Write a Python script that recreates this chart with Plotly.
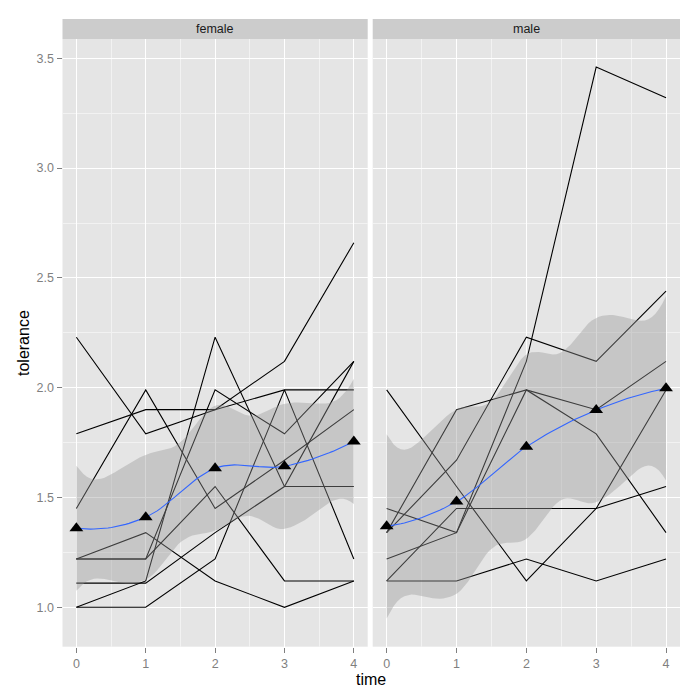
import numpy as np
import plotly.graph_objects as go

# ---- data (tolerance, NYS) ----
ids = [9, 45, 268, 314, 442, 514, 569, 624, 723, 918, 949, 978, 1105, 1542, 1552, 1653]
male = [0, 1, 1, 0, 0, 1, 0, 1, 0, 0, 1, 1, 1, 0, 0, 0]
tol_t0 = [2.23, 1.12, 1.45, 1.22, 1.45, 1.34, 1.79, 1.12, 1.22, 1.00, 1.99, 1.22, 1.34, 1.22, 1.00, 1.11]
tol_t1 = [1.79, 1.45, 1.34, 1.22, 1.99, 1.67, 1.90, 1.12, 1.34, 1.00, 1.55, 1.34, 1.90, 1.22, 1.12, 1.11]
tol_t2 = [1.90, 1.45, 1.99, 1.55, 1.45, 2.23, 1.90, 1.22, 1.12, 1.22, 1.12, 2.12, 1.99, 1.99, 2.23, 1.34]
tol_t3 = [2.12, 1.45, 1.79, 1.12, 1.67, 2.12, 1.99, 1.12, 1.00, 1.99, 1.45, 3.46, 1.90, 1.79, 1.55, 1.55]
tol_t4 = [2.66, 1.99, 1.34, 1.12, 1.90, 2.44, 1.99, 1.22, 1.12, 1.22, 1.55, 3.32, 2.12, 2.12, 1.55, 2.12]
times = [0, 1, 2, 3, 4]
facets = ["female", "male"]
y_ticks = [1.0, 1.5, 2.0, 2.5, 3.0, 3.5]

tol = np.array([tol_t0, tol_t1, tol_t2, tol_t3, tol_t4]).T  # (subject, time)


def t_quantile(p_z, nu):
    z = p_z
    return (z + (z**3 + z) / (4 * nu) + (5 * z**5 + 16 * z**3 + 3 * z) / (96 * nu**2)
            + (3 * z**7 + 19 * z**5 + 17 * z**3 - 15 * z) / (384 * nu**3))


def loess_smooth(x, y, grid, span=0.75):
    """local quadratic loess, vertices at the kd-tree split points (unique x here),
    cubic Hermite interpolation of the operator between vertices (like R's loess)."""
    x = np.asarray(x, float)
    y = np.asarray(y, float)
    n = len(x)
    nf = int(np.floor(n * span))
    verts = np.unique(x)
    Lval, Lslope = [], []
    for v in verts:
        d = np.abs(x - v)
        h = np.sort(d)[nf - 1]
        u = d / h
        w = np.where(u < 1, (1 - u**3) ** 3, 0.0)
        X = np.column_stack([np.ones(n), x - v, (x - v) ** 2])
        A = np.linalg.pinv(X.T @ (w[:, None] * X)) @ (X.T * w)
        Lval.append(A[0])
        Lslope.append(A[1])
    Lval = np.array(Lval)
    Lslope = np.array(Lslope)

    def op(xx):
        rows = []
        for q in np.atleast_1d(xx):
            j = np.searchsorted(verts, q, side="right") - 1
            j = min(max(j, 0), len(verts) - 2)
            a, b = verts[j], verts[j + 1]
            dx = b - a
            t = (q - a) / dx
            phi0 = (1 - t) ** 2 * (1 + 2 * t)
            phi1 = t**2 * (3 - 2 * t)
            psi0 = t * (1 - t) ** 2
            psi1 = -(t**2) * (1 - t)
            rows.append(phi0 * Lval[j] + phi1 * Lval[j + 1]
                        + (psi0 * Lslope[j] + psi1 * Lslope[j + 1]) * dx)
        return np.array(rows)

    Ldata = op(x)
    res = y - Ldata @ y
    IL = np.eye(n) - Ldata
    M = IL.T @ IL
    d1 = np.trace(M)
    d2 = np.trace(M @ M)
    s = np.sqrt(np.sum(res**2) / d1)
    df = d1**2 / d2
    Lg = op(grid)
    fit = Lg @ y
    se = s * np.sqrt(np.sum(Lg**2, axis=1))
    tq = t_quantile(1.959963985, df)
    return fit, fit - tq * se, fit + tq * se


# ---- layout geometry ----
W = H = 700
px_x = lambda p: p / W
px_y = lambda p: (H - p) / H
x_domains = [[px_x(62.5), px_x(367.7)], [px_x(372.7), px_x(680)]]
y_domain = [px_y(646.7), px_y(39)]
y_range = [0.8206, 3.588]
x_range = [-0.2, 4.2]

fig = go.Figure()
grid = np.linspace(0, 4, 80)

for k, sex in enumerate(facets):
    xa = "x" if k == 0 else "x2"
    ya = "y" if k == 0 else "y2"
    sel = [i for i in range(len(ids)) if male[i] == k]
    # individual trajectories
    for i in sel:
        fig.add_trace(go.Scatter(x=times, y=tol[i], mode="lines",
                                 line=dict(color="black", width=1.1),
                                 xaxis=xa, yaxis=ya, hoverinfo="skip"))
    # smooth
    xs = np.repeat(np.array(times, float)[None, :], len(sel), axis=0).ravel()
    ys = tol[sel].ravel()
    fit, lo, hi = loess_smooth(xs, ys, grid)
    fig.add_trace(go.Scatter(x=grid, y=lo, mode="lines", line=dict(width=0),
                             xaxis=xa, yaxis=ya, hoverinfo="skip"))
    fig.add_trace(go.Scatter(x=grid, y=hi, mode="lines", line=dict(width=0),
                             fill="tonexty", fillcolor="rgba(153,153,153,0.4)",
                             xaxis=xa, yaxis=ya, hoverinfo="skip"))
    fig.add_trace(go.Scatter(x=grid, y=fit, mode="lines",
                             line=dict(color="#3366FF", width=1.1),
                             xaxis=xa, yaxis=ya, hoverinfo="skip"))
    # means
    means = tol[sel].mean(axis=0)
    fig.add_trace(go.Scatter(x=times, y=means, mode="markers",
                             marker=dict(symbol="triangle-up", size=12, color="black",
                                         line=dict(width=0)),
                             xaxis=xa, yaxis=ya, hoverinfo="skip"))

font_family = "Liberation Sans, Arial, sans-serif"
axis_common = dict(showline=False, zeroline=False, gridcolor="white", gridwidth=1.2,
                   ticks="outside", ticklen=5, tickwidth=1, tickcolor="#7F7F7F",
                   tickfont=dict(family=font_family, size=12.5, color="#7F7F7F"),
                   minor=dict(showgrid=True, gridcolor="#F2F2F2", gridwidth=0.8))

layout = dict(
    width=W, height=H, margin=dict(l=0, r=0, t=0, b=0),
    paper_bgcolor="white", plot_bgcolor="#E5E5E5", showlegend=False,
)
for k in range(2):
    sfx = "" if k == 0 else "2"
    layout["xaxis" + sfx] = dict(axis_common, domain=x_domains[k], range=x_range,
                                 tickvals=times, ticktext=[str(t) for t in times],
                                 anchor="y" + sfx,
                                 minor=dict(axis_common["minor"], tickvals=[0.5, 1.5, 2.5, 3.5]))
    ya = dict(axis_common, domain=y_domain, range=y_range, anchor="x" + sfx,
              tickvals=y_ticks, ticktext=["%.1f" % v for v in y_ticks],
              minor=dict(axis_common["minor"], tickvals=[1.25, 1.75, 2.25, 2.75, 3.25]))
    if k == 1:
        ya.update(showticklabels=False, ticks="", matches="y")
    layout["yaxis" + sfx] = ya
fig.update_layout(**layout)

# strips
for k, sex in enumerate(facets):
    fig.add_shape(type="rect", xref="paper", yref="paper",
                  x0=x_domains[k][0], x1=x_domains[k][1], y0=y_domain[1], y1=px_y(19),
                  fillcolor="#CCCCCC", line=dict(width=0), layer="below")
    fig.add_annotation(text=sex, xref="paper", yref="paper",
                       x=(x_domains[k][0] + x_domains[k][1]) / 2, y=px_y(29),
                       showarrow=False, font=dict(family=font_family, size=12.5, color="#1A1A1A"),
                       xanchor="center", yanchor="middle")

fig.add_annotation(text="time", xref="paper", yref="paper", x=px_x(371), y=px_y(679),
                   showarrow=False, font=dict(family=font_family, size=16, color="black"),
                   xanchor="center", yanchor="middle")
fig.add_annotation(text="tolerance", xref="paper", yref="paper", x=px_x(23), y=px_y(343),
                   showarrow=False, textangle=-90,
                   font=dict(family=font_family, size=16, color="black"),
                   xanchor="center", yanchor="middle")

fig.write_html("out.html")
